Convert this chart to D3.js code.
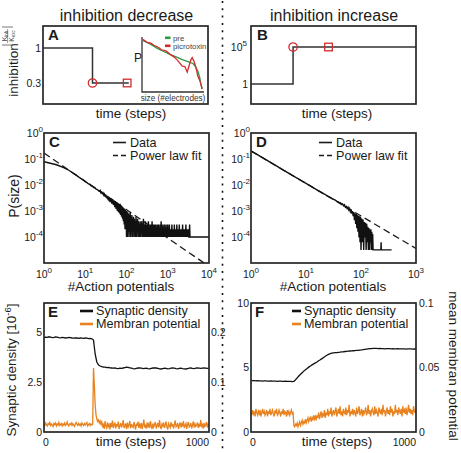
<!DOCTYPE html>
<html><head><meta charset="utf-8">
<script src="https://cdn.jsdelivr.net/npm/d3@7"></script>
<style>body{margin:0;background:#fff}svg{display:block;font-family:"Liberation Sans",Arial,sans-serif}</style>
</head><body><svg id="c" width="461" height="453"></svg>
<script>
// ---------- DATA ----------
// Panel A: inhibition decrease (step)
const aTime = [0, 0.30, 0.30, 0.52];
const aInhibition = [1, 1, 0.3, 0.3];
const aCircle = [0.30, 0.3];
const aSquare = [0.51, 0.3];
const aTicks = [1, 0.3];
// Inset of A (normalised size / P)
const insetPreX = [0.01,0.13,0.24,0.34,0.46,0.56,0.65,0.74,0.82,0.85,0.90,0.93,0.95,0.97];
const insetPreY = [0.937,0.875,0.798,0.741,0.679,0.634,0.589,0.554,0.518,0.482,0.38,0.268,0.143,0.054];
const insetPicroX = [0.01,0.05,0.08,0.12,0.15,0.19,0.24,0.28,0.31,0.36,0.40,0.46,0.51,0.57,0.65,0.69,0.73,0.76,0.79,0.81,0.84,0.87,0.90,0.93,0.95,0.97];
const insetPicroY = [0.959,0.93,0.902,0.895,0.884,0.85,0.827,0.80,0.768,0.755,0.738,0.679,0.643,0.580,0.470,0.464,0.363,0.482,0.589,0.625,0.554,0.446,0.291,0.214,0.143,0.054];
// Panel B: inhibition increase (step)
const bTime = [0, 0.255, 0.255, 1];
const bInhibition = [1, 1, 1e5, 1e5];
const bCircle = [0.255, 1e5];
const bSquare = [0.47, 1e5];
// Panel C: avalanche size distribution (inhibition decrease)
const cSizes = [1,2,3,4,5,6,7,8,9,10,11,12,13,14,15,16,17,18,19,20,
 21,22,23,24,25,26,27,28,29,30,31,32,33,34,35,36,37,38,39,40,
 42,44,46,48,50,52,54,56,58,60,62,64,66,68,70,72,74,76,78,80,82,84,86,88,90,92,94,96,98,100,
 102,105,107,110,112,115,118,120,123,126,
 129,132,135,138,141,145,148,151,155,159,
 162,166,170,174,178,182,186,191,195,200,
 204,209,214,219,224,229,234,240,245,251,
 257,263,269,275,282,288,295,302,309,316,
 324,331,339,347,355,363,372,380,389,398,
 407,417,427,437,447,457,468,479,490,501,
 513,525,537,550,562,575,589,603,617,631,
 646,661,676,692,708,724,741,759,776,794,
 813,832,851,871,891,912,933,955,977,1000,
 1023,1047,1072,1096,1122,1148,1175,1202,1230,1259,
 1288,1318,1349,1380,1413,1445,1479,1514,1549,1585,
 1622,1660,1698,1738,1778,1820,1862,1905,1950,1995,
 2042,2089,2138,2188,2239,2291,2344,2399,2455,2512,
 2570,2630,2692,2754,2818,2884,2951,3020,3090,3162,
 3236,3311,3388,3467,3548,10000];
const cProb = [.079,.060,.047,.037,.029,.024,.020,.0174,.0155,.0135,.0123,.0110,.0105,.0093,.0091,.0080,.0081,.0071,.0068,.0065,
 .0060,.0058,.0062,.0050,.0054,.0047,.0050,.0041,.0045,.0036,.0044,.0033,.0040,.0030,.0037,.0026,.0035,.0024,.0033,.0022,
 .0031,.0019,.0029,.0017,.0026,.0014,.0024,.0012,.0022,.0010,.0020,.0009,.0018,.0008,.0019,.0007,.0016,.0006,.0015,.0005,.0014,.0004,.0013,.0003,.0012,.0002,.0011,.0002,.0010,.0001,
 10e-4,1e-4,9e-4,2e-4,8e-4,1e-4,7e-4,3e-4,9e-4,1e-4,
 6e-4,2e-4,7e-4,1e-4,5e-4,1e-4,6e-4,2e-4,5e-4,1e-4,
 4e-4,1e-4,6e-4,1e-4,4e-4,2e-4,5e-4,1e-4,4e-4,1e-4,
 3e-4,1e-4,4e-4,1e-4,3e-4,2e-4,4e-4,1e-4,3e-4,1e-4,
 5e-4,1e-4,3e-4,1e-4,2e-4,4e-4,1e-4,3e-4,1e-4,2e-4,
 3e-4,1e-4,4e-4,1e-4,2e-4,1e-4,3e-4,1e-4,3e-4,2e-4,
 1e-4,4e-4,1e-4,3e-4,1e-4,2e-4,3e-4,1e-4,3e-4,1e-4,
 3e-4,1e-4,2e-4,1e-4,3e-4,1e-4,2e-4,3e-4,1e-4,2e-4,
 1e-4,3e-4,1e-4,4e-4,1e-4,2e-4,1e-4,3e-4,1e-4,2e-4,
 1e-4,3e-4,1e-4,2e-4,1e-4,3e-4,1e-4,2e-4,1e-4,3e-4,
 1e-4,2e-4,1e-4,3e-4,1e-4,2e-4,1e-4,2e-4,1e-4,3e-4,
 1e-4,2e-4,1e-4,2e-4,1e-4,3e-4,1e-4,2e-4,1e-4,2e-4,
 1e-4,3e-4,1e-4,2e-4,1e-4,2e-4,1e-4,3e-4,1e-4,2e-4,
 1e-4,2e-4,1e-4,2e-4,1e-4,3e-4,1e-4,2e-4,1e-4,2e-4,
 1e-4,2e-4,1e-4,3e-4,1e-4,2e-4,1e-4,2e-4,1e-4,2e-4,
 1e-4,1e-4,3e-4,1e-4,1e-4,1e-4];
const cFitSizes = [1, 7600];
const cFitProb = [0.17, 1e-5];
// Panel D: avalanche size distribution (inhibition increase)
const dSizes = [1,2,3,4,5,6,7,8,9,10,12,14,16,18,20,22,24,26,28,30,32,34,36,38,40,
 42,44,46,48,50,52,54,56,58,60,62,64,66,68,70,72,74,76,78,80,82,84,86,88,90,92,94,96,98,100,
 103,106,109,112,115,118,121,124,127,130,133,136,139,142,145,148,151,154,157,160,163,166,230,232,234,360];
const dProb = [.204,.086,.052,.036,.0273,.0217,.0180,.0152,.0131,.0115,.0092,.0076,.0064,.0056,.0049,.0044,.0039,.0036,.0033,.0030,.0028,.0026,.0024,.0023,.0021,
 2.1e-3,1.85e-3,1.9e-3,1.6e-3,1.75e-3,1.4e-3,1.5e-3,1.25e-3,1.4e-3,1.1e-3,1.25e-3,9.5e-4,1.15e-3,8e-4,1e-3,6.3e-4,9.2e-4,4.4e-4,8.2e-4,3.2e-4,7.6e-4,2.2e-4,7e-4,1.6e-4,6.6e-4,9.5e-5,6.3e-4,6.3e-5,6e-4,3.2e-5,
 5.1e-4,6.3e-5,4.7e-4,3.2e-5,3.8e-4,9.5e-5,3.5e-4,3.2e-5,3.2e-4,6.3e-5,2.5e-4,3.2e-5,2.2e-4,3.2e-5,2e-4,6.3e-5,2e-4,3.2e-5,1.6e-4,3.2e-5,1.3e-4,3.2e-5,3.2e-5,6.3e-5,3.2e-5,3.2e-5];
const dFitSizes = [1, 1000];
const dFitProb = [0.204, 3.63e-5];
// Panel E: time series (inhibition decrease); 0..1000 steps
const eDensity = [4.72,4.74,4.73,4.76,4.74,4.72,4.73,4.75,4.74,4.72,
 4.71,4.73,4.72,4.70,4.71,4.73,4.72,4.70,4.69,4.71,
 4.70,4.68,4.70,4.69,4.68,4.70,4.69,4.67,4.68,4.66,
 4.60,3.90,3.50,3.36,3.30,3.27,3.25,3.24,3.22,3.23,
 3.21,3.20,3.19,3.20,3.18,3.17,3.19,3.18,3.20,3.22,
 3.24,3.23,3.21,3.19,3.17,3.16,3.18,3.20,3.21,3.19,
 3.17,3.18,3.19,3.17,3.16,3.18,3.20,3.21,3.20,3.18,
 3.16,3.15,3.17,3.19,3.18,3.16,3.17,3.19,3.20,3.19,
 3.17,3.16,3.18,3.19,3.17,3.16,3.15,3.17,3.19,3.20,
 3.18,3.17,3.19,3.20,3.19,3.18,3.19,3.20,3.19,3.18,3.19];
const eMembrane = [.016,.013,.018,.014,.012,.017,.015,.019,.013,.016,
 .014,.011,.017,.015,.018,.012,.016,.014,.019,.013,
 .015,.017,.012,.016,.014,.018,.013,.015,.020,.014,
 .012,.016,.015,.018,.013,.017,.014,.011,.016,.019,
 .015,.013,.017,.014,.016,.012,.018,.015,.013,.017,
 .014,.016,.019,.012,.015,.017,.013,.016,.014,.015,
 .128,.095,.055,.035,.026,.021,.024,.018,.022,.016,
 .020,.009,.017,.006,.022,.012,.008,.019,.011,.015,
 .005,.018,.010,.023,.008,.014,.019,.007,.016,.011,
 .021,.006,.013,.018,.009,.015,.024,.008,.012,.017,
 .006,.019,.010,.014,.022,.007,.016,.011,.009,.020,
 .013,.005,.017,.012,.021,.008,.015,.010,.018,.006,
 .014,.025,.009,.013,.007,.019,.011,.016,.008,.022,
 .012,.006,.017,.010,.015,.020,.007,.013,.018,.009,
 .024,.011,.006,.016,.012,.019,.008,.014,.021,.010,
 .005,.017,.013,.009,.020,.011,.016,.007,.015,.023,
 .010,.012,.018,.006,.014,.019,.009,.016,.011,.022,
 .008,.013,.017,.006,.015,.020,.010,.012,.018,.007,
 .014,.021,.009,.016,.011,.013,.019,.008,.017,.010,
 .024,.012,.015,.007,.018,.011,.014,.020,.009,.016,
 .012];
// Panel F: time series (inhibition increase)
const fDensity = [3.97,3.99,3.98,3.97,3.98,3.96,3.97,3.95,3.96,3.97,3.95,3.94,3.96,3.95,3.94,3.95,3.93,3.94,3.95,3.93,3.92,3.94,3.93,3.92,3.93,3.91,
 3.92,4.05,4.20,4.34,4.48,4.60,4.72,4.83,4.93,5.03,5.12,5.20,5.28,5.36,5.43,5.52,5.60,5.69,5.78,5.87,5.95,6.02,6.08,6.11,6.14,
 6.15,6.16,6.18,6.19,6.21,6.22,6.24,6.25,6.27,6.28,6.29,6.30,6.31,6.32,6.33,6.35,6.36,6.38,6.40,6.42,
 6.44,6.46,6.47,6.48,6.49,6.48,6.47,6.48,6.46,6.47,6.45,6.46,6.47,6.46,6.45,6.46,6.44,6.45,6.46,6.45,
 6.44,6.45,6.44,6.43,6.44,6.45,6.44,6.43,6.44,6.43];
const fMembrane = [.015,.013,.017,.014,.016,.012,.018,.015,.013,.016,
 .014,.017,.012,.015,.018,.014,.016,.013,.015,.017,
 .012,.016,.014,.018,.013,.015,.017,.014,.012,.016,
 .015,.018,.013,.014,.017,.015,.012,.016,.014,.018,
 .013,.016,.015,.012,.017,.014,.016,.013,.015,.017,
 .014,.015,
 .005,.004,.006,.005,.007,.004,.006,.008,
 .005,.007,.009,.006,.008,.007,.010,.007,.009,.011,
 .008,.010,.012,.008,.011,.009,.013,.010,.012,.009,
 .013,.011,.015,.010,.013,.016,.011,.014,.012,.017,
 .011,.015,.013,.018,.012,.016,.014,.019,.012,.015,
 .017,.013,.016,.019,.012,.015,.018,.014,.020,.013,
 .016,.012,.018,.015,.014,.019,.013,.017,.015,.021,
 .012,.016,.014,.018,.013,.017,.015,.012,.019,.014,
 .016,.020,.013,.015,.018,.012,.017,.014,.016,.019,
 .013,.015,.021,.014,.017,.012,.016,.018,.015,.013,
 .020,.014,.017,.015,.012,.019,.016,.014,.018,.013,
 .021,.015,.017,.012,.016,.019,.014,.017,.013,.020,
 .015,.018,.012,.016,.014,.021,.015,.017,.013,.019,
 .016,.014,.018,.012,.020,.015,.017,.014,.019,.013,
 .016,.021,.015,.018,.014,.017,.013,.020,.016,.015,
 .018];
const runSteps = 1000;
const logTicksC = [0,1,2,3,4];
const logTicksD = [0,1,2,3];
const logTicksY = [0,-1,-2,-3,-4];

// ---------- DRAWING ----------
const svg = d3.select("#c");
const INK = "#1a1a1a", BOX = "#262626", RED = "#d42b2b", GREEN = "#2a9a45", ORANGE = "#e8821e";
const defs = svg.append("defs");
let clipN = 0;
function clip(x0,y0,x1,y1){
  const id = "cl"+(clipN++);
  defs.append("clipPath").attr("id",id).append("rect").attr("x",x0).attr("y",y0).attr("width",x1-x0).attr("height",y1-y0);
  return svg.append("g").attr("clip-path",`url(#${id})`);
}
function box(x0,y0,x1,y1){
  svg.append("rect").attr("x",x0).attr("y",y0).attr("width",x1-x0).attr("height",y1-y0)
    .attr("fill","none").attr("stroke",BOX).attr("stroke-width",1.7);
}
function label(x,y,s,o={}){
  const t = svg.append("text").attr("x",x).attr("y",y).text(s)
    .attr("font-size",o.size||10).attr("text-anchor",o.anchor||"start").attr("fill",o.fill||INK);
  if(o.weight) t.attr("font-weight",o.weight);
  if(o.rot) t.attr("transform",`rotate(${o.rot},${x},${y})`);
  return t;
}
function powLabel(x,y,exp,anchor){
  const t = svg.append("text").attr("x",x).attr("y",y).attr("font-size",10.5)
    .attr("text-anchor",anchor).attr("fill",INK);
  t.append("tspan").text("10");
  t.append("tspan").attr("dy",-5).attr("font-size",8).text(exp);
  return t;
}
function mark(g, kind, cx, cy){
  if(kind==="circle") g.append("circle").attr("cx",cx).attr("cy",cy).attr("r",4.2)
    .attr("fill","none").attr("stroke",RED).attr("stroke-width",1.3);
  else g.append("rect").attr("x",cx-3.8).attr("y",cy-3.8).attr("width",7.6).attr("height",7.6)
    .attr("fill","none").attr("stroke",RED).attr("stroke-width",1.3);
}

// separator
svg.append("line").attr("x1",222.5).attr("x2",222.5).attr("y1",1).attr("y2",453)
  .attr("stroke","#111").attr("stroke-width",1.6).attr("stroke-dasharray","2,5.3");

// titles
label(126.5,21,"inhibition decrease",{size:16,anchor:"middle"});
label(334,21,"inhibition increase",{size:16,anchor:"middle"});

// ===== Panel A =====
{
  const x = d3.scaleLinear().domain([0,1]).range([43,208]);
  const y = d3.scaleLinear().domain([-0.12,1.44]).range([104,26]);
  const g = svg.append("g");
  g.append("path").datum(d3.zip(aTime,aInhibition))
    .attr("d",d3.line().x(d=>x(d[0])).y(d=>y(d[1])))
    .attr("fill","none").attr("stroke","#333").attr("stroke-width",1.5);
  mark(g,"circle",x(aCircle[0]),y(aCircle[1]));
  mark(g,"rect",x(aSquare[0]),y(aSquare[1]));
  aTicks.forEach(v=>label(41,y(v)+3.5,String(v),{size:10.5,anchor:"end"}));
  // inset
  const ix = d3.scaleLinear().domain([0,1]).range([142,204]);
  const iy = d3.scaleLinear().domain([0,1]).range([92,37]);
  g.append("path").attr("d",`M${ix(0)},${iy(1)}V${iy(0)}H${ix(1)}`)
    .attr("fill","none").attr("stroke","#333").attr("stroke-width",1.3);
  const il = d3.line().x(d=>ix(d[0])).y(d=>iy(d[1]));
  g.append("path").datum(d3.zip(insetPreX,insetPreY)).attr("d",il)
    .attr("fill","none").attr("stroke",GREEN).attr("stroke-width",1.3);
  g.append("path").datum(d3.zip(insetPicroX,insetPicroY)).attr("d",il)
    .attr("fill","none").attr("stroke",RED).attr("stroke-width",1.3);
  g.append("rect").attr("x",165).attr("y",36.5).attr("width",5.5).attr("height",2.6).attr("fill",GREEN);
  g.append("rect").attr("x",165).attr("y",44.5).attr("width",5.5).attr("height",2.6).attr("fill",RED);
  label(173,40.5,"pre",{size:7.8,fill:"#444"});
  label(173,48.5,"picrotoxin",{size:7.8,fill:"#444"});
  label(134,62,"P",{size:12});
  label(173,101,"size (#electrodes)",{size:8.2,anchor:"middle",fill:"#333"});
  box(43,26,208,104);
  label(48,40,"A",{size:15,weight:"bold"});
  label(131,118,"time (steps)",{size:13.5,anchor:"middle"});
  // y label: inhibition |K_inh / K_exc|
  label(18,70,"inhibition",{size:13.5,anchor:"middle",rot:-90});
  const fg = svg.append("g").attr("transform","translate(0,36) rotate(-90)");
  fg.append("line").attr("x1",-9).attr("x2",-9).attr("y1",2).attr("y2",13).attr("stroke","#555").attr("stroke-width",0.8);
  fg.append("line").attr("x1",9).attr("x2",9).attr("y1",2).attr("y2",13).attr("stroke","#555").attr("stroke-width",0.8);
  fg.append("line").attr("x1",-7).attr("x2",7).attr("y1",7.6).attr("y2",7.6).attr("stroke","#555").attr("stroke-width",0.6);
  const num = fg.append("text").attr("x",0).attr("y",6.8).attr("text-anchor","middle").attr("font-size",7).attr("fill","#444");
  num.append("tspan").text("K"); num.append("tspan").attr("font-size",4.5).attr("dy",1).text("inh");
  const den = fg.append("text").attr("x",0).attr("y",13.5).attr("text-anchor","middle").attr("font-size",7).attr("fill","#444");
  den.append("tspan").text("K"); den.append("tspan").attr("font-size",4.5).attr("dy",1).text("exc");
}

// ===== Panel B =====
{
  const x = d3.scaleLinear().domain([0,1]).range([251,416]);
  const y = d3.scaleLog().domain([Math.pow(10,-2.7),Math.pow(10,7.84)]).range([104,26]);
  const g = svg.append("g");
  g.append("path").datum(d3.zip(bTime,bInhibition))
    .attr("d",d3.line().x(d=>x(d[0])).y(d=>y(d[1])))
    .attr("fill","none").attr("stroke","#333").attr("stroke-width",1.5);
  mark(g,"circle",x(bCircle[0]),y(bCircle[1]));
  mark(g,"rect",x(bSquare[0]),y(bSquare[1]));
  powLabel(247,y(1e5)+3.5,"5","end");
  label(248,y(1)+3.5,"1",{size:10.5,anchor:"end"});
  box(251,26,416,104);
  label(257,40,"B",{size:15,weight:"bold"});
  label(337,118,"time (steps)",{size:13.5,anchor:"middle"});
}

// ===== Panels C & D =====
function distPanel(x0,x1,maxExp,ticksX,sizes,prob,fitS,fitP,letter,legX,ylabX,xlabX){
  const y0=133,y1=263;
  const x = d3.scaleLog().domain([1,Math.pow(10,maxExp)]).range([x0,x1]);
  const y = d3.scaleLog().domain([1e-5,1]).range([y1,y0]);
  const g = clip(x0,y0,x1,y1);
  const ln = d3.line().x(d=>x(d[0])).y(d=>y(d[1]));
  g.append("path").datum(d3.zip(fitS,fitP)).attr("d",ln)
    .attr("fill","none").attr("stroke",INK).attr("stroke-width",1.3).attr("stroke-dasharray","7,4");
  g.append("path").datum(d3.zip(sizes,prob)).attr("d",ln)
    .attr("fill","none").attr("stroke","#111").attr("stroke-width",1.4).attr("stroke-linejoin","miter");
  box(x0,y0,x1,y1);
  ticksX.forEach(e=>powLabel(x(Math.pow(10,e)),278,String(e),"middle"));
  logTicksY.forEach(e=>powLabel(ylabX,y(Math.pow(10,e))+3.5,String(e),"end"));
  label(x0+5,147,letter,{size:15,weight:"bold"});
  svg.append("line").attr("x1",legX).attr("x2",legX+13).attr("y1",142.5).attr("y2",142.5).attr("stroke",INK).attr("stroke-width",1.6);
  svg.append("line").attr("x1",legX).attr("x2",legX+13).attr("y1",155.5).attr("y2",155.5).attr("stroke",INK).attr("stroke-width",1.6).attr("stroke-dasharray","5,3");
  label(legX+17,147,"Data",{size:12.6});
  label(legX+17,160,"Power law fit",{size:12.6});
  label(xlabX,291,"#Action potentials",{size:13.5,anchor:"middle"});
}
distPanel(44,209,4,logTicksC,cSizes,cProb,cFitSizes,cFitProb,"C",113,43,121);
distPanel(251,416,3,logTicksD,dSizes,dProb,dFitSizes,dFitProb,"D",319,250,333);
label(19,196,"P(size)",{size:14,anchor:"middle",rot:-90});

// ===== Panels E & F =====
function timePanel(x0,x1,dens,memb,leftMax,rightMax,leftTicks,rightTicks,letter,legX,legLen,leftLabX,rightLabX){
  const y0=303,y1=432;
  const x = d3.scaleLinear().domain([0,runSteps]).range([x0,x1]);
  const yl = d3.scaleLinear().domain([0,leftMax]).range([y1,y0]);
  const yr = d3.scaleLinear().domain([0,rightMax]).range([y1,y0]);
  const g = clip(x0,y0,x1,y1);
  const td = i => i*runSteps/(dens.length-1);
  const tm = i => i*runSteps/(memb.length-1);
  g.append("path").datum(memb).attr("d",d3.line().x((d,i)=>x(tm(i))).y(d=>yr(d)))
    .attr("fill","none").attr("stroke",ORANGE).attr("stroke-width",1.3);
  g.append("path").datum(dens).attr("d",d3.line().x((d,i)=>x(td(i))).y(d=>yl(d)))
    .attr("fill","none").attr("stroke","#111").attr("stroke-width",1.3);
  box(x0,y0,x1,y1);
  leftTicks.forEach(v=>label(leftLabX,yl(v)+3.5,String(v),{size:10.5,anchor:"end"}));
  rightTicks.forEach(v=>label(rightLabX,yr(v)+3.5,String(v),{size:10.5}));
  label(x(0)+2,446,"0",{size:10.5,anchor:"middle"});
  label(x(runSteps),446,String(runSteps),{size:10.5,anchor:"end"});
  label(x0+4,317,letter,{size:15,weight:"bold"});
  svg.append("line").attr("x1",legX).attr("x2",legX+legLen).attr("y1",311).attr("y2",311).attr("stroke","#111").attr("stroke-width",2.6);
  svg.append("line").attr("x1",legX).attr("x2",legX+legLen).attr("y1",324).attr("y2",324).attr("stroke",ORANGE).attr("stroke-width",2.6);
  label(legX+legLen+3,315,"Synaptic density",{size:12.6});
  label(legX+legLen+3,328,"Membran potential",{size:12.6});
}
timePanel(44,209,eDensity,eMembrane,6.45,0.258,[0,2.5,5],[0,0.1,0.2],"E",80,13,42,211);
timePanel(251,416,fDensity,fMembrane,10,0.1,[0,5,10],[0,0.05,0.1],"F",292,9,249,419);
label(131,446,"time (steps)",{size:13.5,anchor:"middle"});
label(337,446,"time (steps)",{size:13.5,anchor:"middle"});
{
  const t = svg.append("text").attr("x",16).attr("y",370).attr("text-anchor","middle")
    .attr("font-size",13.5).attr("fill",INK).attr("transform","rotate(-90,16,370)");
  t.append("tspan").text("Synaptic density [10");
  t.append("tspan").attr("dy",-5).attr("font-size",9.5).text("-6");
  t.append("tspan").attr("dy",5).text("]");
}
label(449,366,"mean membran potential",{size:13.5,anchor:"middle",rot:90});
</script></body></html>
